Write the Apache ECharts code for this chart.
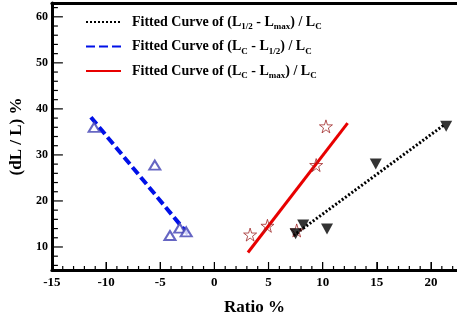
<!DOCTYPE html>
<html>
<head>
<meta charset="utf-8">
<script src="https://cdn.jsdelivr.net/npm/echarts@6/dist/echarts.min.js"></script>
<style>
  html, body { margin: 0; padding: 0; background: #fff; }
  #chart { width: 457px; height: 321px; }
</style>
</head>
<body>
<div id="chart"></div>
<script>
// axis ranges and tick values
const X_MIN = -15, X_MAX = 22.4, X_STEP = 5;
const Y_MIN = 5, Y_MAX = 63;
const xMajorTicks = [-15, -10, -5, 0, 5, 10, 15, 20];
const xMinorTicks = [-14, -13, -12, -11, -9, -8, -7, -6, -4, -3, -2, -1, 1, 2, 3, 4, 6, 7, 8, 9, 11, 12, 13, 14, 16, 17, 18, 19, 21, 22];
const yMajorTicks = [10, 20, 30, 40, 50, 60];
const yMinorTicks = [6, 8, 12, 14, 16, 18, 22, 24, 26, 28, 32, 34, 36, 38, 42, 44, 46, 48, 52, 54, 56, 58, 62];

// measured points
const triUpX = [-11.1, -5.5, -4.1, -3.2, -2.6];
const triUpY = [36.0, 27.8, 12.5, 14.1, 13.3];
const starX = [3.3, 4.9, 7.6, 9.4, 10.3];
const starY = [12.7, 14.6, 13.6, 27.8, 36.2];
const triDownX = [7.5, 8.2, 10.4, 14.9, 21.4];
const triDownY = [12.9, 14.8, 13.9, 28.0, 36.2];

// fitted lines (end points)
const fitBlackX = [7.3, 21.2];
const fitBlackY = [12.5, 36.5];
const fitBlueX = [-11.4, -2.4];
const fitBlueY = [38.2, 12.7];
const fitRedX = [3.1, 12.3];
const fitRedY = [8.8, 36.9];

const legendNames = ['fitBlack', 'fitBlue', 'fitRed'];
const legendLabels = [
  'Fitted Curve of (L{s|1/2} - L{s|max}) / L{s|C}',
  'Fitted Curve of (L{s|C} - L{s|1/2}) / L{s|C}',
  'Fitted Curve of (L{s|C} - L{s|max}) / L{s|C}'
];

const pairs = (xs, ys) => xs.map((x, i) => [x, ys[i]]);
const FONT = '"Liberation Serif", "DejaVu Serif", serif';
const starPath = 'path://M50,0 L61,35 L98,35 L68,57 L79,91 L50,70 L21,91 L32,57 L2,35 L39,35 Z';

const chart = echarts.init(document.getElementById('chart'), null, { renderer: 'canvas' });

// inward tick marks as small rects sitting on the axis lines
const tickSeries = (values, len, dir) => ({
  type: 'scatter',
  silent: true,
  clip: false,
  z: 5,
  symbol: 'rect',
  symbolSize: dir === 'x' ? [1.2, len] : [len, 1.2],
  symbolOffset: dir === 'x' ? [0, -len / 2] : [len / 2, 0],
  itemStyle: { color: '#000', opacity: 1 },
  emphasis: { disabled: true },
  data: values.map(v => (dir === 'x' ? [v, Y_MIN] : [X_MIN, v]))
});

const option = {
  backgroundColor: '#fff',
  animation: false,
  grid: { left: 51, right: 0, top: 3, bottom: 38 },
  legend: {
    data: legendNames,
    orient: 'vertical',
    left: 85,
    top: 15,
    padding: 0,
    itemGap: 8,
    itemWidth: 35,
    itemHeight: 14,
    itemStyle: { opacity: 0 },
    formatter: name => legendLabels[legendNames.indexOf(name)],
    textStyle: {
      fontFamily: FONT, fontWeight: 'bold', fontSize: 14, color: '#000',
      padding: [0, 0, 0, 6],
      rich: {
        s: { fontFamily: FONT, fontWeight: 'bold', fontSize: 9, color: '#000', padding: [10, 0, 0, 0] }
      }
    }
  },
  xAxis: [
    {
      type: 'value', min: X_MIN, max: X_MAX, interval: X_STEP,
      name: 'Ratio %', nameLocation: 'middle', nameGap: 29,
      nameTextStyle: { fontFamily: FONT, fontWeight: 'bold', fontSize: 17, color: '#000' },
      axisLine: { onZero: false, lineStyle: { color: '#000', width: 3 } },
      axisTick: { show: true, inside: true, length: 8, lineStyle: { color: '#000' } },
      axisLabel: { showMaxLabel: false, margin: 6, fontFamily: FONT, fontWeight: 'bold', fontSize: 13, color: '#000' },
      splitLine: { show: false }
    },
    {
      // top frame line
      type: 'value', min: X_MIN, max: X_MAX, position: 'top',
      axisLine: { show: true, onZero: false, lineStyle: { color: '#000', width: 3 } },
      axisTick: { show: false }, axisLabel: { show: false }, splitLine: { show: false }
    }
  ],
  yAxis: [
    {
      type: 'value', min: Y_MIN, max: Y_MAX, splitNumber: 6,
      name: '(dL / L) %', nameLocation: 'middle', nameGap: 23, nameRotate: 90,
      nameTextStyle: { fontFamily: FONT, fontWeight: 'bold', fontSize: 17, color: '#000' },
      axisLine: { show: true, onZero: false, lineStyle: { color: '#000', width: 3 } },
      axisTick: { show: false },
      axisLabel: { showMinLabel: false, showMaxLabel: false, margin: 4, fontFamily: FONT, fontWeight: 'bold', fontSize: 12, color: '#000' },
      splitLine: { show: false }
    }
  ],
  series: [
    {
      name: 'fitBlack', type: 'line', symbol: 'none', z: 3,
      data: pairs(fitBlackX, fitBlackY),
      lineStyle: { color: '#000', width: 3, type: [2, 2] },
      itemStyle: { color: '#000' }
    },
    {
      name: 'fitBlue', type: 'line', symbol: 'none', z: 3,
      data: pairs(fitBlueX, fitBlueY),
      lineStyle: { color: '#0010e8', width: 4, type: [9, 4] },
      itemStyle: { color: '#0010e8' }
    },
    {
      name: 'fitRed', type: 'line', symbol: 'none', z: 3,
      data: pairs(fitRedX, fitRedY),
      lineStyle: { color: '#e80000', width: 3 },
      itemStyle: { color: '#e80000' }
    },
    {
      name: 'triUp', type: 'scatter', symbol: 'emptyTriangle', symbolSize: [11, 9], z: 4,
      data: pairs(triUpX, triUpY),
      itemStyle: { color: '#4040b4', borderWidth: 1 }
    },
    {
      name: 'stars', type: 'scatter', symbol: starPath, symbolSize: 13, z: 4,
      data: pairs(starX, starY),
      itemStyle: { color: 'rgba(0,0,0,0)', borderColor: '#a02828', borderWidth: 1 }
    },
    {
      name: 'triDown', type: 'scatter', symbol: 'triangle', symbolRotate: 180, symbolSize: [12, 11], z: 4,
      data: pairs(triDownX, triDownY),
      itemStyle: { color: '#000' }
    },
    tickSeries(xMajorTicks, 8, 'x'),
    tickSeries(xMinorTicks, 4, 'x'),
    tickSeries(yMajorTicks, 11, 'y'),
    tickSeries(yMinorTicks, 6, 'y')
  ]
};

chart.setOption(option);
</script>
</body>
</html>
